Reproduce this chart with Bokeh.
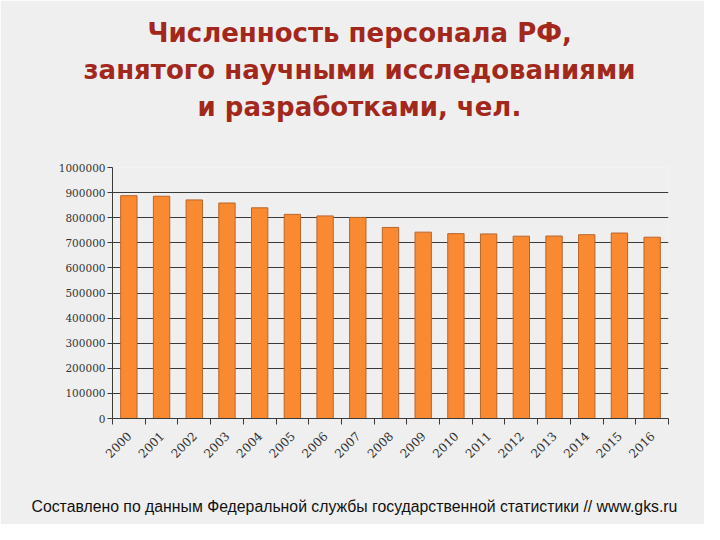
from bokeh.plotting import figure
from bokeh.models import Range1d, FixedTicker, Title, NumeralTickFormatter
from bokeh.embed import file_html
from bokeh.resources import INLINE
import math

years = ["2000", "2001", "2002", "2003", "2004", "2005", "2006", "2007", "2008",
         "2009", "2010", "2011", "2012", "2013", "2014", "2015", "2016"]
staff = [887729, 885568, 870878, 858470, 839338, 813207, 807066, 801135, 761252,
         742433, 736540, 735273, 726318, 727029, 732274, 738857, 722291]
y_ticks = [0, 100000, 200000, 300000, 400000, 500000, 600000, 700000, 800000, 900000, 1000000]

title_lines = ["Численность персонала РФ,",
               "занятого научными исследованиями",
               "и разработками, чел."]
footer = "Составлено по данным Федеральной службы государственной статистики // www.gks.ru"

BG = "#efefef"
TITLE_C = "#A3281C"
AX = "#3a3a3a"

n = len(years)
xs = [i + 0.5 for i in range(n)]

p = figure(width=704, height=524, output_backend="svg", toolbar_location=None,
           x_range=Range1d(0, n), y_range=Range1d(0, 1000000),
           min_border_left=112, min_border_right=36,
           min_border_top=167, min_border_bottom=106)
p.background_fill_color = BG
p.border_fill_color = BG
p.outline_line_color = None

p.vbar(x=xs, top=staff, width=0.5, bottom=0,
       fill_color="#F98A32", line_color="#B8652A", line_width=1)

# y axis
p.yaxis.ticker = FixedTicker(ticks=y_ticks)
p.yaxis.formatter = NumeralTickFormatter(format="0")
p.yaxis.axis_line_color = AX
p.yaxis.major_tick_line_color = AX
p.yaxis.major_tick_out = 5
p.yaxis.major_tick_in = 0
p.yaxis.minor_tick_line_color = None
p.yaxis.major_label_text_font = "DejaVu Serif"
p.yaxis.major_label_text_font_size = "10.5px"
p.yaxis.major_label_text_color = "#333333"
p.yaxis.major_label_standoff = 2

p.ygrid.ticker = FixedTicker(ticks=y_ticks)
p.ygrid.grid_line_color = AX
p.ygrid.grid_line_width = 1
p.xgrid.grid_line_color = None

# x axis: labels at centers, ticks at boundaries
p.xaxis.ticker = FixedTicker(ticks=xs, minor_ticks=list(range(n + 1)))
p.xaxis.major_label_overrides = {x: y for x, y in zip(xs, years)}
p.xaxis.major_tick_line_color = None
p.xaxis.minor_tick_line_color = AX
p.xaxis.minor_tick_out = 6
p.xaxis.minor_tick_in = 0
p.xaxis.axis_line_color = AX
p.xaxis.major_label_orientation = math.pi / 4
p.xaxis.major_label_text_font = "DejaVu Serif"
p.xaxis.major_label_text_font_size = "12px"
p.xaxis.major_label_text_color = "#333333"
p.xaxis.major_label_standoff = 9

# titles (first added is nearest the plot); left-aligned with offsets to centre at x~359
title_offsets = [35, -29, 85]
p.add_layout(Title(text=" ", text_font_size="36px", standoff=0), "above")
for line, off in reversed(list(zip(title_lines, title_offsets))):
    t = Title(text=line, align="left", offset=off,
              text_font="DejaVu Sans", text_font_style="bold",
              text_font_size="26px", text_color=TITLE_C, standoff=5)
    p.add_layout(t, "above")

p.add_layout(Title(text=" ", text_font_size="22px", standoff=0), "below")
p.add_layout(Title(text=footer, align="left", offset=-81,
                   text_font="Liberation Sans", text_font_style="normal",
                   text_font_size="15.8px", text_color="#111111", standoff=6), "below")

open("out.html", "w").write(file_html(p, INLINE))
